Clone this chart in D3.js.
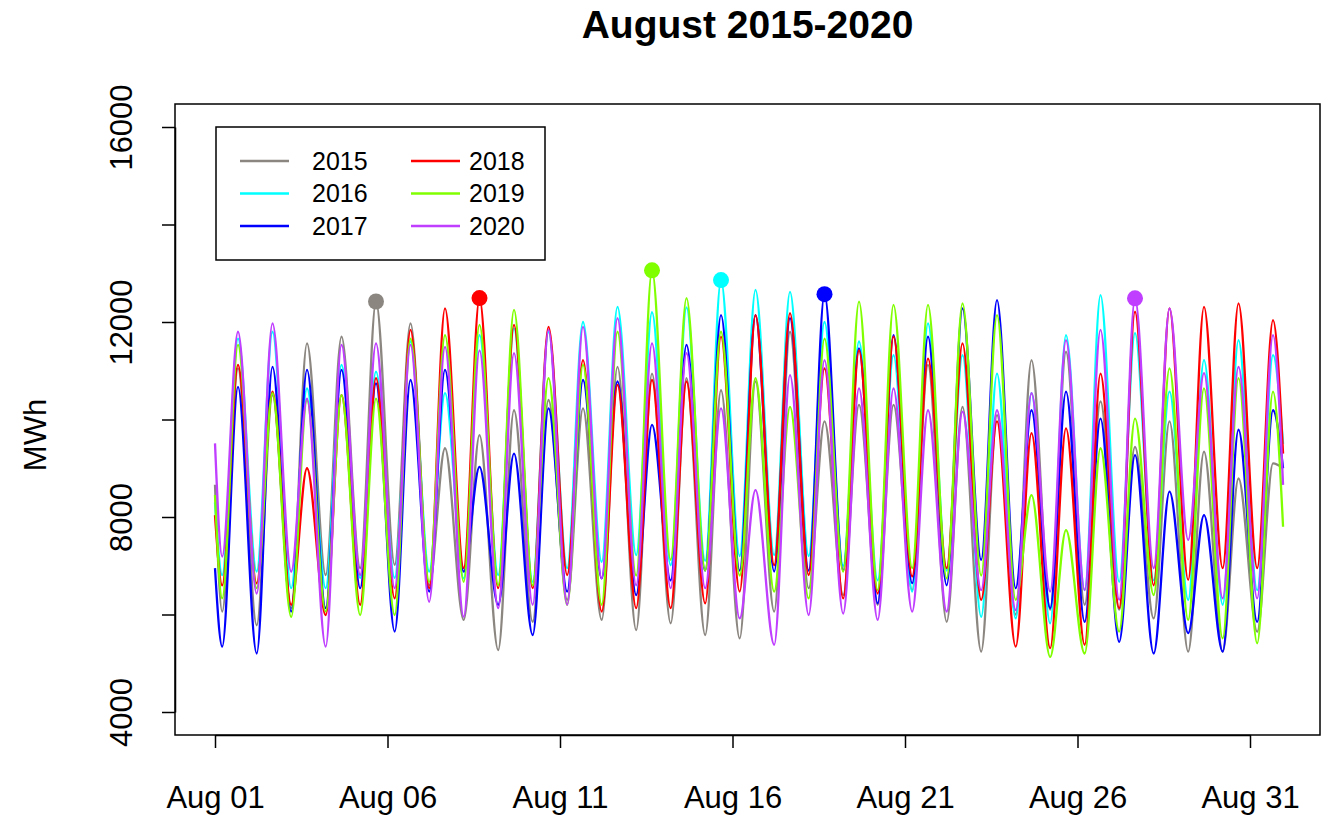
<!DOCTYPE html>
<html>
<head>
<meta charset="utf-8">
<script src="https://cdn.jsdelivr.net/npm/d3@7"></script>
<style>
  body { margin: 0; background: #fff; }
  svg { font-family: "Liberation Sans", Arial, sans-serif; }
</style>
</head>
<body>
<svg id="chart" width="1335" height="817"></svg>
<script>
const years = ['2015', '2016', '2017', '2018', '2019', '2020'];
const colors = ['#8b8680', '#00ffff', '#0000ff', '#ff0000', '#7fff00', '#bf3eff'];
const tickLabels = ['Aug 01', 'Aug 06', 'Aug 11', 'Aug 16', 'Aug 21', 'Aug 26', 'Aug 31'];
const yTicks = [4000, 6000, 8000, 10000, 12000, 14000, 16000];

const troughHour = 5;
const peakHour = 16;

// value at 00:00 on Aug 01 and at 23:00 on Aug 31
const startVals = [8660, 8300, 6950, 8040, 8450, 9510];
const endVals = [9000, 9500, 9000, 9300, 7800, 8660];

const lows2015 = [6060, 5780, 6130, 6810, 6950, 7020, 6600, 5890, 5270, 5850, 6300, 5890, 5680, 5820, 5580, 5510,
  6060, 6540, 6400, 6200, 6500, 5850, 5240, 6000, 6100, 6200, 6100, 5920, 5240, 5240, 5650];
const highs2015 = [11050, 10500, 11560, 11700, 12420, 11970, 9410, 9680, 10190, 10400, 10230, 11080, 10940, 10850, 10600, 10780,
  11800, 9960, 10300, 10300, 11120, 10260, 10090, 11220, 11390, 10370, 9440, 9960, 9340, 8790, 9100];

const lows2016 = [6810, 6880, 6540, 6540, 6750, 6750, 6880, 6740, 6810, 6670, 6950, 7080, 7220, 7010, 7100, 7200,
  7220, 7200, 7000, 6700, 6470, 6900, 5950, 5920, 5820, 6500, 6670, 6700, 6300, 6200, 6500];
const highs2016 = [11660, 11800, 10640, 11120, 10980, 11600, 10540, 11730, 11870, 11800, 12000, 12310, 12200, 12300, 12860, 12660,
  12620, 12000, 11600, 11320, 11970, 11320, 10940, 10540, 11730, 12550, 11770, 10570, 11220, 11630, 11320];

const lows2017 = [5340, 5200, 6060, 6130, 6540, 5650, 6470, 6880, 6200, 5580, 6470, 6740, 6400, 6700, 6900, 6900,
  6880, 6900, 6900, 6230, 6640, 6600, 7120, 6540, 6130, 5850, 5440, 5200, 5620, 5240, 5850];
const highs2017 = [10670, 11080, 11020, 11020, 10740, 10810, 11020, 9030, 9300, 10230, 10810, 10780, 9890, 11530, 12140, 12140,
  12080, 12570, 11460, 11730, 11700, 12280, 12450, 10190, 10570, 10020, 9270, 8520, 8040, 9790, 10190];

const lows2018 = [6600, 6640, 6200, 5990, 6200, 6330, 6540, 6950, 6540, 6540, 6810, 6060, 6130, 6130, 6230, 6470,
  7010, 6810, 6330, 6430, 6780, 6950, 6300, 5340, 5310, 5380, 6130, 6600, 6710, 6950, 6950];
const highs2018 = [11120, 10570, 9000, 10500, 10850, 11840, 12280, 12490, 11940, 11900, 11220, 10710, 10810, 10780, 11700, 12140,
  12180, 11050, 11420, 11700, 11250, 11560, 9960, 9720, 9820, 10940, 12210, 12280, 12310, 12380, 12040];

const lows2019 = [6330, 6540, 5950, 6060, 5990, 5990, 6670, 6670, 6600, 6600, 6200, 6200, 6800, 7120, 6900, 6800,
  6470, 6330, 6880, 6500, 6950, 6740, 6800, 6300, 5130, 5200, 5650, 6400, 5890, 5510, 5410];
const highs2019 = [11530, 10540, 10400, 10500, 10430, 11660, 11730, 11940, 12250, 10850, 11120, 11800, 13060, 12490, 11800, 10850,
  10260, 11660, 12420, 12350, 12350, 12380, 12140, 8450, 7730, 9410, 10020, 11050, 10640, 10850, 10570];

const lows2020 = [7190, 6430, 6880, 5340, 6810, 6540, 6260, 5950, 6130, 6200, 6200, 6740, 6600, 6540, 6540, 5920,
  5380, 5990, 6020, 5890, 6060, 6060, 6500, 6090, 6470, 6500, 6300, 6950, 7530, 6330, 6330];
const highs2020 = [11800, 11970, 10430, 11530, 11560, 11530, 11490, 11420, 11360, 11840, 11900, 12080, 11560, 11360, 10230, 8550,
  10910, 11220, 10640, 10640, 10190, 10160, 10190, 10540, 11630, 11840, 12485, 12280, 10950, 11080, 11730];

const lows = [lows2015, lows2016, lows2017, lows2018, lows2019, lows2020];
const highs = [highs2015, highs2016, highs2017, highs2018, highs2019, highs2020];

const series = years.map((year, k) => {
  const pts = [{ h: 0, v: startVals[k] }];
  lows[k].forEach((lo, i) => {
    pts.push({ h: i * 24 + troughHour, v: lo });
    pts.push({ h: i * 24 + peakHour, v: highs[k][i] });
  });
  pts.push({ h: 743, v: endVals[k] });
  const top = d3.maxIndex(highs[k]);
  return { year, color: colors[k], pts, peak: { h: top * 24 + peakHour, v: highs[k][top] } };
});

const svg = d3.select('#chart');
const box = { left: 175, right: 1320, top: 104, bottom: 735 };

const x = d3.scaleLinear().domain([0, 720]).range([215, 1250]);
const y = d3.scaleLinear().domain([4000, 16000]).range([712, 127]);

svg.append('defs').append('clipPath').attr('id', 'clip')
  .append('rect')
  .attr('x', box.left).attr('y', box.top)
  .attr('width', box.right - box.left).attr('height', box.bottom - box.top);

const line = d3.line()
  .x(d => x(d.h))
  .y(d => y(d.v))
  .curve(d3.curveMonotoneX);

const plot = svg.append('g').attr('clip-path', 'url(#clip)');
series.forEach(s => {
  plot.append('path')
    .attr('d', line(s.pts))
    .attr('fill', 'none')
    .attr('stroke', s.color)
    .attr('stroke-width', 2.3)
    .attr('stroke-linejoin', 'round');
});
series.forEach(s => {
  plot.append('circle')
    .attr('cx', x(s.peak.h))
    .attr('cy', y(s.peak.v))
    .attr('r', 8)
    .attr('fill', s.color);
});

// frame
svg.append('rect')
  .attr('x', box.left).attr('y', box.top)
  .attr('width', box.right - box.left).attr('height', box.bottom - box.top)
  .attr('fill', 'none').attr('stroke', '#000').attr('stroke-width', 1.5);

// x axis
const xAxis = svg.append('g')
  .attr('transform', `translate(0,${box.bottom})`)
  .call(d3.axisBottom(x)
    .tickValues(tickLabels.map((_, i) => i * 120))
    .tickFormat((d, i) => tickLabels[i])
    .tickSizeInner(13).tickSizeOuter(0).tickPadding(38));
xAxis.selectAll('text').attr('font-size', 31).attr('fill', '#000').attr('font-family', 'Liberation Sans, Arial, sans-serif');
xAxis.selectAll('line, path').attr('stroke', '#000').attr('stroke-width', 1.5);

// y axis
const yAxis = svg.append('g')
  .attr('transform', `translate(${box.left},0)`)
  .call(d3.axisLeft(y)
    .tickValues(yTicks)
    .tickFormat(d => (d % 4000 === 0 ? d : ''))
    .tickSizeInner(13).tickSizeOuter(0));
yAxis.selectAll('line, path').attr('stroke', '#000').attr('stroke-width', 1.5);
yAxis.selectAll('text')
  .attr('font-size', 31).attr('fill', '#000').attr('font-family', 'Liberation Sans, Arial, sans-serif')
  .attr('x', null).attr('dy', null)
  .attr('text-anchor', 'middle')
  .attr('transform', 'translate(-43,0) rotate(-90)');

// labels
svg.append('text')
  .attr('x', (box.left + box.right) / 2).attr('y', 38)
  .attr('text-anchor', 'middle')
  .attr('font-size', 39).attr('font-weight', 'bold')
  .text('August 2015-2020');

svg.append('text')
  .attr('transform', 'translate(46,435) rotate(-90)')
  .attr('text-anchor', 'middle')
  .attr('font-size', 31)
  .text('MWh');

// legend
const legend = svg.append('g');
legend.append('rect')
  .attr('x', 216).attr('y', 127).attr('width', 329).attr('height', 133)
  .attr('fill', '#fff').attr('stroke', '#000').attr('stroke-width', 1.5);
series.forEach((s, k) => {
  const col = Math.floor(k / 3);
  const row = k % 3;
  const lx = col === 0 ? 240 : 411;
  const tx = col === 0 ? 312 : 469;
  const ly = 161 + row * 32.5;
  legend.append('line')
    .attr('x1', lx).attr('x2', lx + 49)
    .attr('y1', ly).attr('y2', ly)
    .attr('stroke', s.color).attr('stroke-width', 2.3);
  legend.append('text')
    .attr('x', tx).attr('y', ly)
    .attr('dy', '0.35em')
    .attr('font-size', 25)
    .text(s.year);
});
</script>
</body>
</html>
